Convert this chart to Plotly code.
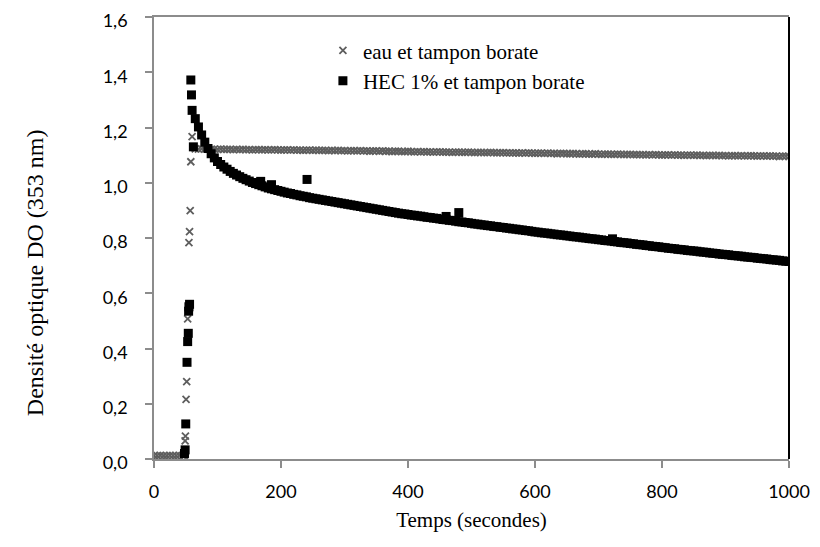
import plotly.graph_objects as go

# ---------------- data ----------------
# Series 1: eau et tampon borate (grey crosses)
eau_t_start = [0, 5, 10, 15, 20, 25, 30, 35, 40, 45, 47, 48,
               49, 49.5, 50.5, 51.5, 53, 55, 56, 57, 58, 60]
eau_v_start = [0.012, 0.012, 0.013, 0.012, 0.012, 0.013, 0.012, 0.012, 0.013, 0.012, 0.012, 0.013,
               0.066, 0.083, 0.216, 0.280, 0.507, 0.783, 0.823, 0.899, 1.076, 1.167]
eau_t_plateau = list(range(65, 1001, 5))
eau_v_plateau = [
    1.123, 1.122, 1.123, 1.122, 1.122, 1.121, 1.122, 1.121, 1.122, 1.121,
    1.121, 1.121, 1.120, 1.121, 1.120, 1.121, 1.120, 1.120, 1.119, 1.120,
    1.120, 1.119, 1.120, 1.119, 1.119, 1.120, 1.119, 1.118, 1.119, 1.119,
    1.118, 1.119, 1.118, 1.118, 1.117, 1.118, 1.118, 1.117, 1.118, 1.117,
    1.117, 1.117, 1.116, 1.117, 1.116, 1.117, 1.116, 1.116, 1.115, 1.116,
    1.116, 1.115, 1.116, 1.115, 1.115, 1.114, 1.115, 1.115, 1.114, 1.115,
    1.114, 1.114, 1.113, 1.114, 1.114, 1.113, 1.113, 1.114, 1.113, 1.112,
    1.113, 1.112, 1.113, 1.112, 1.112, 1.111, 1.112, 1.112, 1.111, 1.111,
    1.111, 1.110, 1.111, 1.111, 1.110, 1.110, 1.111, 1.110, 1.109, 1.110,
    1.110, 1.109, 1.109, 1.110, 1.109, 1.108, 1.109, 1.109, 1.108, 1.108,
    1.108, 1.108, 1.107, 1.108, 1.107, 1.108, 1.107, 1.106, 1.107, 1.107,
    1.106, 1.107, 1.106, 1.106, 1.105, 1.106, 1.106, 1.105, 1.105, 1.106,
    1.105, 1.104, 1.105, 1.105, 1.104, 1.104, 1.105, 1.104, 1.103, 1.104,
    1.104, 1.103, 1.103, 1.104, 1.103, 1.102, 1.103, 1.103, 1.102, 1.102,
    1.102, 1.102, 1.101, 1.102, 1.101, 1.102, 1.101, 1.100, 1.101, 1.101,
    1.100, 1.101, 1.100, 1.100, 1.099, 1.100, 1.100, 1.099, 1.100, 1.099,
    1.099, 1.098, 1.099, 1.099, 1.098, 1.099, 1.098, 1.098, 1.097, 1.098,
    1.098, 1.097, 1.098, 1.097, 1.097, 1.098, 1.097, 1.096, 1.097, 1.097,
    1.096, 1.097, 1.096, 1.096, 1.095, 1.096, 1.096, 1.095,
]

# Series 2: HEC 1% et tampon borate (black squares)
hec_t_start = [48, 49, 50, 52, 53, 54, 54.5, 55, 56, 58, 59, 62]
hec_v_start = [0.020, 0.033, 0.127, 0.350, 0.425, 0.455, 0.535, 0.551, 0.560, 1.372, 1.318, 1.130]
hec_t_curve = list(range(60, 1001, 5))
hec_v_curve = [
    1.262, 1.232, 1.202, 1.173, 1.147, 1.124, 1.105, 1.090, 1.077, 1.066,
    1.057, 1.049, 1.041, 1.034, 1.028, 1.022, 1.016, 1.011, 1.006, 1.001,
    0.997, 0.993, 0.989, 0.985, 0.981, 0.978, 0.975, 0.972, 0.969,
    0.966, 0.963, 0.961, 0.958, 0.956, 0.953, 0.951, 0.949, 0.946, 0.944,
    0.942, 0.940, 0.938, 0.936, 0.934, 0.932, 0.930, 0.928, 0.926, 0.924,
    0.922, 0.920, 0.918, 0.916, 0.914, 0.912, 0.910, 0.908, 0.906, 0.904,
    0.902, 0.900, 0.898, 0.896, 0.894, 0.892, 0.890, 0.888, 0.887, 0.885,
    0.883, 0.882, 0.880, 0.879, 0.877, 0.875, 0.874, 0.872, 0.871, 0.869,
    0.867, 0.866, 0.864, 0.863, 0.861, 0.859, 0.858, 0.856, 0.855, 0.853,
    0.851, 0.850, 0.848, 0.847, 0.845, 0.844, 0.842, 0.841, 0.839, 0.838,
    0.836, 0.835, 0.833, 0.832, 0.830, 0.829, 0.827, 0.826, 0.824, 0.822,
    0.821, 0.819, 0.818, 0.817, 0.815, 0.814, 0.812, 0.811, 0.810, 0.808,
    0.807, 0.805, 0.804, 0.803, 0.801, 0.800, 0.798, 0.797, 0.796, 0.794,
    0.793, 0.791, 0.790, 0.789, 0.787, 0.786, 0.784, 0.783, 0.782, 0.780,
    0.779, 0.777, 0.776, 0.775, 0.773, 0.772, 0.770, 0.769, 0.768, 0.766,
    0.765, 0.763, 0.762, 0.761, 0.759, 0.758, 0.757, 0.755, 0.754, 0.753,
    0.752, 0.750, 0.749, 0.748, 0.746, 0.745, 0.744, 0.742, 0.741, 0.740,
    0.739, 0.737, 0.736, 0.735, 0.734, 0.732, 0.731, 0.730, 0.729, 0.727,
    0.726, 0.725, 0.724, 0.722, 0.721, 0.720, 0.719, 0.717, 0.716, 0.715,
]
hec_t_outliers = [168, 185, 241, 460, 480, 722]
hec_v_outliers = [1.005, 0.993, 1.012, 0.878, 0.892, 0.797]

x_ticks = [0, 200, 400, 600, 800, 1000]
y_ticks = [0.0, 0.2, 0.4, 0.6, 0.8, 1.0, 1.2, 1.4, 1.6]

assert len(eau_t_plateau) == len(eau_v_plateau)
assert len(hec_t_curve) == len(hec_v_curve)

eau_t = eau_t_start + eau_t_plateau
eau_v = eau_v_start + eau_v_plateau
hec_t = hec_t_start + hec_t_curve + hec_t_outliers
hec_v = hec_v_start + hec_v_curve + hec_v_outliers

# ---------------- figure ----------------
GREY = "#5e5e5e"
AXIS = "#8c8c8c"
SERIF = "Liberation Serif, Times New Roman, serif"
SANS = "Lato, Open Sans, sans-serif"

fig = go.Figure()
fig.add_trace(go.Scatter(
    x=eau_t, y=eau_v, mode="markers", name="eau et tampon borate",
    marker=dict(symbol="x-thin", size=7, color=GREY, line=dict(width=1.8, color=GREY)),
))
fig.add_trace(go.Scatter(
    x=hec_t, y=hec_v, mode="markers", name="HEC 1% et tampon borate",
    marker=dict(symbol="square", size=9, color="black", line=dict(width=0)),
))

fig.update_layout(
    width=820, height=547,
    margin=dict(l=146, r=39, t=9, b=96),
    paper_bgcolor="white", plot_bgcolor="white",
    separators=", ",
    showlegend=True,
    legend=dict(
        x=0.266, y=0.97, xanchor="left", yanchor="top",
        bgcolor="rgba(0,0,0,0)",
        font=dict(family=SERIF, size=21, color="black"),
        itemsizing="trace", tracegroupgap=0,
    ),
    xaxis=dict(
        range=[0, 1000], tickvals=x_ticks, tickformat="d",
        showgrid=False, zeroline=False, automargin=False,
        showline=True, linecolor=AXIS, linewidth=1.5, mirror=True,
        ticks="outside", ticklen=7, tickcolor=AXIS, tickwidth=1.5,
        ticklabelstandoff=9, ticklabeloverflow="allow",
        tickfont=dict(family=SANS, size=18, color="black"),
        title=dict(text="Temps (secondes)", font=dict(family=SERIF, size=21, color="black"), standoff=11),
    ),
    yaxis=dict(
        range=[0, 1.6], tickvals=y_ticks, tickformat=".1f",
        showgrid=False, zeroline=False, automargin=False,
        showline=True, linecolor=AXIS, linewidth=1.5,
        ticks="outside", ticklen=7, tickcolor=AXIS, tickwidth=1.5,
        ticklabelstandoff=14, ticklabelshift=4, ticklabeloverflow="allow",
        tickfont=dict(family=SANS, size=18, color="black"),
    ),
    annotations=[dict(
        text="Densité optique DO (353 nm)", textangle=-90,
        xref="paper", yref="paper", x=-0.187, y=0.421,
        xanchor="center", yanchor="middle", showarrow=False,
        font=dict(family=SERIF, size=24, color="black"),
    )],
    shapes=[dict(type="line", xref="paper", yref="paper", x0=1, x1=1, y0=0, y1=1,
                 line=dict(color="black", width=2))],
)

fig.write_html("out.html")
